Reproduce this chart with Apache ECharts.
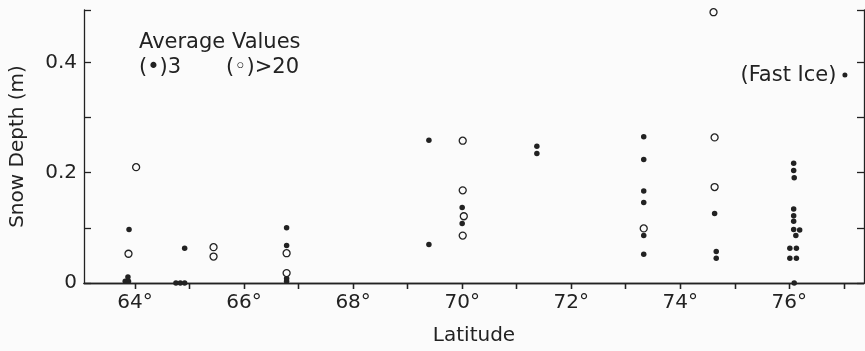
<!DOCTYPE html>
<html>
<head>
<meta charset="utf-8">
<script src="https://cdn.jsdelivr.net/npm/echarts@6/dist/echarts.min.js"></script>
<style>
  html, body { margin: 0; padding: 0; background: #fbfbfb; }
  #snow_depth { width: 865px; height: 351px; }
</style>
</head>
<body>
<div id="snow_depth"></div>
<script>
// Data: [latitude, snow depth (m)]
var filledPoints = [
    [63.82, 0.003], [63.88, 0.003], [63.87, 0.011], [63.89, 0.097],
    [64.75, 0], [64.83, 0], [64.91, 0], [64.91, 0.063],
    [66.78, 0.003], [66.78, 0.008], [66.78, 0.068], [66.78, 0.100],
    [69.39, 0.259], [69.39, 0.070],
    [70.00, 0.137], [70.00, 0.108],
    [71.37, 0.248], [71.37, 0.235],
    [73.33, 0.265], [73.33, 0.224], [73.33, 0.167], [73.33, 0.146], [73.33, 0.086], [73.33, 0.052],
    [74.63, 0.126], [74.66, 0.057], [74.66, 0.045],
    [76.08, 0.217], [76.08, 0.204], [76.09, 0.191], [76.08, 0.134], [76.08, 0.122],
    [76.08, 0.112], [76.08, 0.097], [76.19, 0.096], [76.12, 0.086],
    [76.01, 0.063], [76.13, 0.063], [76.01, 0.045], [76.13, 0.045], [76.09, 0]
];
var openPoints = [
    [64.02, 0.210], [63.88, 0.053],
    [65.44, 0.065], [65.44, 0.048],
    [66.78, 0.054], [66.78, 0.018],
    [70.01, 0.258], [70.01, 0.168], [70.03, 0.121], [70.01, 0.086],
    [73.33, 0.099],
    [74.63, 0.264], [74.63, 0.174], [74.61, 0.491]
];
var fastIcePoints = [[77.02, 0.377]];

var latTicks = [64, 65, 66, 67, 68, 69, 70, 71, 72, 73, 74, 75, 76, 77];
var latLabels = [64, 66, 68, 70, 72, 74, 76];
var depthLabels = [0, 0.2, 0.4];

var ink = '#222222';
var font = 'DejaVu Sans, sans-serif';

var chart = echarts.init(document.getElementById('snow_depth'));

chart.setOption({
    backgroundColor: '#fbfbfb',
    animation: false,
    textStyle: { fontFamily: font, color: ink },

    grid: { left: 82, right: 1, top: 10, bottom: 68 },

    // Bottom and top latitude axes
    xAxis: [{
        type: 'value',
        position: 'bottom',
        min: 63.064,
        max: 77.37,
        name: 'Latitude',
        nameLocation: 'middle',
        nameGap: 43,
        nameTextStyle: { fontSize: 20, color: ink, fontFamily: font },
        axisLine: { lineStyle: { color: ink, width: 1.3 } },
        axisTick: { customValues: latTicks, inside: false, length: 6, lineStyle: { color: ink, width: 1.3 } },
        axisLabel: {
            customValues: latLabels,
            margin: 10,
            fontSize: 20,
            color: ink,
            fontFamily: font,
            formatter: function (v) { return v + '°'; }
        },
        splitLine: { show: false }
    }, {
        type: 'value',
        position: 'top',
        min: 63.064,
        max: 77.37,
        axisLine: { lineStyle: { color: ink, width: 1.3 } },
        axisTick: { customValues: latTicks, inside: true, length: 6, lineStyle: { color: ink, width: 1.3 } },
        axisLabel: { show: false },
        splitLine: { show: false }
    }],

    // Left and right depth axes
    yAxis: [{
        type: 'value',
        position: 'left',
        min: 0,
        max: 0.495,
        interval: 0.1,
        name: 'Snow Depth (m)',
        nameLocation: 'middle',
        nameGap: 56,
        nameTextStyle: { fontSize: 20, color: ink, fontFamily: font },
        axisLine: { show: true, lineStyle: { color: ink, width: 1.3 } },
        axisTick: { show: true, inside: true, length: 7, lineStyle: { color: ink, width: 1.3 } },
        axisLabel: {
            margin: 7,
            fontSize: 20,
            color: ink,
            fontFamily: font,
            formatter: function (v) {
                var r = Math.round(v * 10) / 10;
                return depthLabels.indexOf(r) >= 0 ? (r === 0 ? '0' : r.toFixed(1)) : '';
            }
        },
        splitLine: { show: false }
    }, {
        type: 'value',
        position: 'right',
        min: 0,
        max: 0.495,
        interval: 0.1,
        axisLine: { show: true, lineStyle: { color: ink, width: 1.3 } },
        axisTick: { show: true, inside: true, length: 7, lineStyle: { color: ink, width: 1.3 } },
        axisLabel: { show: false },
        splitLine: { show: false }
    }],

    // Legend notes drawn as text
    graphic: [{
        type: 'text',
        left: 139,
        top: 32,
        style: { text: 'Average Values', font: '21px ' + font, fill: ink }
    }, {
        type: 'text',
        left: 139,
        top: 57,
        style: { text: '(•)3', font: '21px ' + font, fill: ink }
    }, {
        type: 'text',
        left: 226,
        top: 57,
        style: { text: '(◦)>20', font: '21px ' + font, fill: ink }
    }],

    series: [{
        name: 'Average of 3',
        type: 'scatter',
        clip: false,
        symbol: 'circle',
        symbolSize: 5.5,
        itemStyle: { color: ink, opacity: 1 },
        data: filledPoints
    }, {
        name: 'Average of >20',
        type: 'scatter',
        clip: false,
        symbol: 'circle',
        symbolSize: 7,
        itemStyle: { color: '#fbfbfb', borderColor: ink, borderWidth: 1.3, opacity: 1 },
        data: openPoints
    }, {
        name: 'Fast Ice',
        type: 'scatter',
        clip: false,
        symbol: 'circle',
        symbolSize: 5,
        itemStyle: { color: ink, opacity: 1 },
        label: {
            show: true,
            position: 'left',
            distance: 6,
            formatter: '(Fast Ice)',
            fontSize: 21,
            color: ink,
            fontFamily: font
        },
        data: fastIcePoints
    }]
});
</script>
</body>
</html>
